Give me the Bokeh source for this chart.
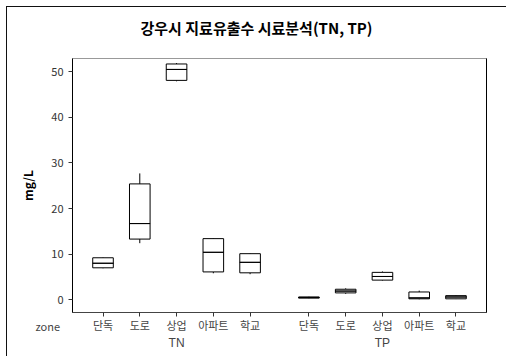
from bokeh.plotting import figure
from bokeh.models import FactorRange, Range1d, Label, LinearAxis, FixedTicker
from bokeh.embed import file_html
from bokeh.resources import INLINE

zones = ["단독", "도로", "상업", "아파트", "학교"]
groups = ["TN", "TP"]

tn_min = [6.9, 12.4, 47.9, 5.8, 5.6]
tn_q1 = [7.0, 13.3, 48.1, 6.1, 5.9]
tn_med = [8.0, 16.7, 50.5, 10.4, 8.2]
tn_q3 = [9.2, 25.4, 51.7, 13.4, 10.1]
tn_max = [9.3, 27.7, 51.9, 13.5, 10.2]

tp_min = [0.3, 1.3, 4.2, 0.1, 0.15]
tp_q1 = [0.35, 1.5, 4.3, 0.2, 0.2]
tp_med = [0.5, 1.9, 5.1, 0.4, 0.6]
tp_q3 = [0.6, 2.3, 6.0, 1.7, 0.9]
tp_max = [0.65, 2.5, 6.2, 2.0, 1.0]

y_ticks = [0, 10, 20, 30, 40, 50]

factors = [(g, z) for g in groups for z in zones]
vmin = tn_min + tp_min
vq1 = tn_q1 + tp_q1
vmed = tn_med + tp_med
vq3 = tn_q3 + tp_q3
vmax = tn_max + tp_max

FONT = "Noto Sans CJK KR"

xr = FactorRange(*factors, group_padding=0.6, range_padding=0.33, range_padding_units="absolute")
p = figure(x_range=xr, y_range=Range1d(-2.8, 52.9), width=500, height=350,
           output_backend="svg", toolbar_location=None,
           min_border_left=65, min_border_right=21, min_border_top=51, min_border_bottom=45)

p.styles = {"margin-left": "6px", "margin-top": "6px",
            "border-top": "1px solid #111", "border-left": "1px solid #111"}

p.title.text = "강우시 지료유출수 시료분석(TN, TP)"
p.title.align = "left"
p.title.offset = 68
p.title.standoff = 10
p.title.text_font = FONT
p.title.text_font_size = "15px"
p.title.text_font_style = "bold"
p.title.text_color = "#000000"

p.grid.visible = False
p.outline_line_color = "#999999"
p.outline_line_width = 1

# whiskers
p.segment(x0=factors, x1=factors, y0=vq3, y1=vmax, line_color="#000000", line_width=1)
p.segment(x0=factors, x1=factors, y0=vq1, y1=vmin, line_color="#000000", line_width=1)
# boxes
p.vbar(x=factors, top=vq3, bottom=vq1, width=0.56, fill_color="white",
       line_color="#000000", line_width=1)
# medians
p.vbar(x=factors, top=vmed, bottom=vmed, width=0.56, fill_color=None,
       line_color="#000000", line_width=1)

# y axis
ya = p.yaxis[0]
ya.ticker = FixedTicker(ticks=y_ticks)
ya.axis_label = "mg/L"
ya.axis_label_text_font = FONT
ya.axis_label_text_font_style = "bold"
ya.axis_label_text_font_size = "12px"
ya.axis_label_text_color = "#000000"
ya.axis_label_standoff = 12
ya.major_label_text_font = FONT
ya.major_label_text_font_size = "11px"
ya.major_label_text_color = "#333333"
ya.minor_tick_line_color = None
ya.major_tick_in = 0
ya.major_tick_out = 4
ya.axis_line_color = "#000000"
ya.major_tick_line_color = "#333333"

# x axis
xa = p.xaxis[0]
xa.major_label_text_font = FONT
xa.major_label_text_font_size = "11px"
xa.major_label_text_color = "#444444"
xa.group_text_font = "Liberation Sans"
xa.group_text_font_size = "12px"
xa.group_text_font_style = "normal"
xa.group_text_color = "#444444"
xa.separator_line_color = None
xa.major_tick_in = 0
xa.major_tick_out = 4
xa.axis_line_color = "#444444"
xa.major_tick_line_color = "#333333"
xa.major_label_standoff = 0

# right border line
ra = LinearAxis(ticker=FixedTicker(ticks=[]), major_label_text_font_size="0px",
                major_tick_line_color=None, minor_tick_line_color=None,
                axis_line_color="#000000")
p.add_layout(ra, "right")

# "zone" label
p.add_layout(Label(x=-37, y=-267, x_units="screen", y_units="screen", text="zone",
                   text_font=FONT, text_font_size="11px", text_color="#444444",
                   text_baseline="middle"), "above")

open("out.html", "w").write(file_html(p, INLINE))
